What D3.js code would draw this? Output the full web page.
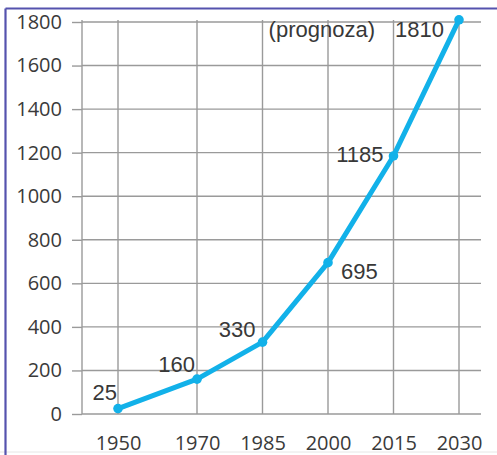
<!DOCTYPE html>
<html>
<head>
<meta charset="utf-8">
<script src="https://cdn.jsdelivr.net/npm/d3@7"></script>
<style>
  html, body { margin: 0; padding: 0; background: #ffffff; }
  svg { display: block; }
</style>
</head>
<body>
<script>
// Population series (millions), with 2030 as a forecast
const years = [1950, 1970, 1985, 2000, 2015, 2030];
const population = [25, 160, 330, 695, 1185, 1810];
const yTicks = [0, 200, 400, 600, 800, 1000, 1200, 1400, 1600, 1800];
const forecastNote = "(prognoza)";

// Label placement relative to each point: [dx, dy, anchor]
const labelPlacement = [
  [-1, -9, "end"],
  [-2, -7, "end"],
  [-7, -5, "end"],
  [13, 16, "start"],
  [-10, 6, "end"],
  [-15, 17, "end"]
];

const W = 497, H = 455;
const svg = d3.select("body").append("svg")
  .attr("width", W).attr("height", H);

// Frame: purple top and left edges, faint bottom edge
svg.append("line").attr("x1", 0).attr("x2", W).attr("y1", 452).attr("y2", 452)
  .attr("stroke", "#e6e6e6").attr("stroke-width", 1);
svg.append("line").attr("x1", 5.5).attr("x2", W).attr("y1", 8.5).attr("y2", 8.5)
  .attr("stroke", "#5552ae").attr("stroke-width", 2.2);
svg.append("line").attr("x1", 5.5).attr("x2", 5.5).attr("y1", 8.5).attr("y2", H)
  .attr("stroke", "#5552ae").attr("stroke-width", 2.2);

const plotLeft = 82, gridRight = 481, gridTop = 20;

// Year positions: the first interval is drawn a little wider than the rest
const x = d3.scaleLinear()
  .domain([1950, 1970, 2030])
  .range([118, 197, 459]);

const y = d3.scaleLinear()
  .domain([0, 1800])
  .range([414, 22]);

const gridColor = "#9a9a9a";
const grid = svg.append("g");

// Horizontal gridlines
grid.selectAll("line.h").data(yTicks).join("line")
  .attr("class", "h")
  .attr("x1", plotLeft).attr("x2", gridRight)
  .attr("y1", d => y(d)).attr("y2", d => y(d))
  .attr("stroke", gridColor).attr("stroke-width", 1.4);

// Vertical gridlines: left edge plus one per year
grid.selectAll("line.v").data([null].concat(years)).join("line")
  .attr("class", "v")
  .attr("x1", d => d === null ? plotLeft : x(d))
  .attr("x2", d => d === null ? plotLeft : x(d))
  .attr("y1", gridTop).attr("y2", y(0))
  .attr("stroke", gridColor).attr("stroke-width", 1.4);

// Y axis with short outer ticks
const yAxis = svg.append("g")
  .attr("transform", `translate(${plotLeft},0)`)
  .call(d3.axisLeft(y).tickValues(yTicks).tickSize(10).tickPadding(10).tickFormat(d3.format("d")));
yAxis.select(".domain").remove();
yAxis.selectAll(".tick line").attr("stroke", gridColor).attr("stroke-width", 1.4);
yAxis.selectAll(".tick text")
  .attr("fill", "#3a3a3a")
  .style("font-family", "'Open Sans', sans-serif")
  .style("font-size", "20px");

// X axis labels
const xAxis = svg.append("g")
  .attr("transform", `translate(0,${y(0)})`)
  .call(d3.axisBottom(x).tickValues(years).tickSize(0).tickPadding(22).tickFormat(d3.format("d")));
xAxis.select(".domain").remove();
xAxis.selectAll(".tick text")
  .attr("fill", "#3a3a3a")
  .style("font-family", "'Open Sans', sans-serif")
  .style("font-size", "20px");

const pts = years.map((yr, i) => ({ year: yr, value: population[i], place: labelPlacement[i] }));

// Series line
const line = d3.line().x(d => x(d.year)).y(d => y(d.value));
svg.append("path")
  .datum(pts)
  .attr("d", line)
  .attr("fill", "none")
  .attr("stroke", "#12b1e9")
  .attr("stroke-width", 5)
  .attr("stroke-linejoin", "round")
  .attr("stroke-linecap", "round");

svg.selectAll("circle.pt").data(pts).join("circle")
  .attr("class", "pt")
  .attr("cx", d => x(d.year)).attr("cy", d => y(d.value))
  .attr("r", 4.8)
  .attr("fill", "#12b1e9");

// Value labels
svg.selectAll("text.val").data(pts).join("text")
  .attr("class", "val")
  .attr("x", d => x(d.year) + d.place[0])
  .attr("y", d => y(d.value) + d.place[1])
  .attr("text-anchor", d => d.place[2])
  .attr("fill", "#383838")
  .style("font-family", "'Liberation Sans', Arial, sans-serif")
  .style("font-size", "22px")
  .text(d => d.value);

// Forecast note beside the last value
const last = pts[pts.length - 1];
svg.append("text")
  .attr("x", x(last.year) - 84)
  .attr("y", y(last.value) + 17)
  .attr("text-anchor", "end")
  .attr("fill", "#383838")
  .style("font-family", "'Liberation Sans', Arial, sans-serif")
  .style("font-size", "22px")
  .text(forecastNote);
</script>
</body>
</html>
